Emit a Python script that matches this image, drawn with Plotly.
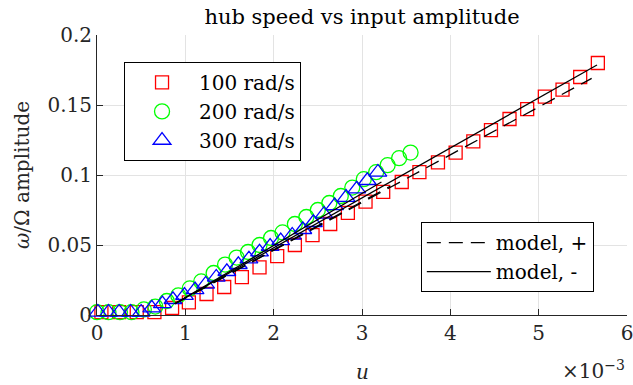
import plotly.graph_objects as go

# u values are in units of 1e-3 (axis carries a x10^-3 multiplier)
u_100 = [0.05, 0.25, 0.45, 0.65, 0.85, 1.04, 1.24, 1.44, 1.64, 1.84, 2.04, 2.24, 2.44, 2.64, 2.84,
         3.04, 3.24, 3.45, 3.65, 3.86, 4.06, 4.26, 4.46, 4.67, 4.87, 5.07, 5.27, 5.47, 5.67]
w_100 = [0.002, 0.002, 0.002, 0.002, 0.005, 0.009, 0.015, 0.020, 0.027, 0.034, 0.042, 0.050, 0.057,
         0.065, 0.073, 0.081, 0.088, 0.095, 0.102, 0.109, 0.116, 0.124, 0.132, 0.140, 0.147, 0.156,
         0.161, 0.170, 0.180]

u_200 = [0.00, 0.13, 0.26, 0.39, 0.53, 0.66, 0.79, 0.92, 1.05, 1.18, 1.32, 1.45, 1.58, 1.71, 1.84,
         1.97, 2.10, 2.24, 2.37, 2.50, 2.63, 2.76, 2.89, 3.02, 3.16, 3.29, 3.42, 3.55]
w_200 = [0.002, 0.002, 0.002, 0.002, 0.004, 0.006, 0.010, 0.014, 0.019, 0.024, 0.030, 0.036, 0.041,
         0.045, 0.050, 0.055, 0.059, 0.065, 0.070, 0.075, 0.080, 0.085, 0.091, 0.097, 0.102, 0.107,
         0.112, 0.116]

u_300 = [0.01, 0.13, 0.25, 0.38, 0.50, 0.62, 0.74, 0.86, 0.99, 1.11, 1.23, 1.35, 1.47, 1.60, 1.72,
         1.84, 1.96, 2.08, 2.21, 2.33, 2.45, 2.57, 2.69, 2.82, 2.94, 3.06, 3.18]
w_300 = [0.002, 0.002, 0.002, 0.002, 0.002, 0.005, 0.008, 0.011, 0.014, 0.018, 0.022, 0.027, 0.031,
         0.036, 0.040, 0.045, 0.049, 0.053, 0.057, 0.061, 0.066, 0.072, 0.078, 0.084, 0.090, 0.096,
         0.102]

# model curves (straight segments above the dead zone)
model_plus_u_long = [0.88, 5.60]
model_plus_w_long = [0.008, 0.169]
model_minus_u_long = [0.88, 5.66]
model_minus_w_long = [0.008, 0.1786]
model_plus_u_short = [0.88, 3.32]
model_plus_w_short = [0.008, 0.092]
model_minus_u_short = [0.88, 3.22]
model_minus_w_short = [0.008, 0.095]

x_ticks = [0, 1, 2, 3, 4, 5, 6]
y_ticks = [0, 0.05, 0.1, 0.15, 0.2]
y_ticktext = ["0", "0.05", "0.1", "0.15", "0.2"]

FONT = "DejaVu Serif"
AX = "#262626"
FS = 20

fig = go.Figure()
fig.add_trace(go.Scatter(x=u_100, y=w_100, mode="markers", name="100 rad/s", cliponaxis=False,
                         marker=dict(symbol="square-open", size=13, color="#ff0000", line=dict(width=1.3)),
                         legend="legend"))
fig.add_trace(go.Scatter(x=u_200, y=w_200, mode="markers", name="200 rad/s", cliponaxis=False,
                         marker=dict(symbol="circle-open", size=15, color="#00ff00", line=dict(width=1.3)),
                         legend="legend"))
fig.add_trace(go.Scatter(x=u_300, y=w_300, mode="markers", name="300 rad/s", cliponaxis=False,
                         marker=dict(symbol="triangle-up-open", size=15.5, color="#0000ff", line=dict(width=1.3)),
                         legend="legend"))
fig.add_trace(go.Scatter(x=model_plus_u_short, y=model_plus_w_short, mode="lines", showlegend=False,
                         line=dict(color="black", width=1.3, dash="14px,8px")))
fig.add_trace(go.Scatter(x=model_minus_u_short, y=model_minus_w_short, mode="lines", showlegend=False,
                         line=dict(color="black", width=1.3)))
fig.add_trace(go.Scatter(x=model_plus_u_long, y=model_plus_w_long, mode="lines", name="model, +",
                         line=dict(color="black", width=1.3, dash="14px,8px"), legend="legend2"))
fig.add_trace(go.Scatter(x=model_minus_u_long, y=model_minus_w_long, mode="lines", name="model, -",
                         line=dict(color="black", width=1.3), legend="legend2"))

axis_common = dict(showgrid=True, gridcolor="#e3e3e3", gridwidth=1, ticks="inside", ticklen=6,
                   tickcolor=AX, showline=True, linecolor=AX, linewidth=1, zeroline=False,
                   automargin=False, ticklabeloverflow="allow",
                   tickfont=dict(family=FONT, size=FS, color=AX))

fig.update_layout(
    width=633, height=385,
    margin=dict(l=97, r=6, t=35, b=70),
    paper_bgcolor="white", plot_bgcolor="white",
    font=dict(family=FONT, size=FS, color="black"),
    title=dict(text="hub speed vs input amplitude", x=362 / 633, xanchor="center",
               y=1 - 17 / 385, yanchor="middle", automargin=False,
               font=dict(family=FONT, size=21, color="black")),
    xaxis=dict(range=[0, 6], tickvals=x_ticks, **axis_common),
    yaxis=dict(range=[0, 0.2], tickvals=y_ticks, ticktext=y_ticktext,
               title=dict(text="<i>ω</i>/Ω amplitude", standoff=12, font=dict(family=FONT, size=FS, color=AX)),
               **axis_common),
    legend=dict(x=0.051, y=0.904, xanchor="left", yanchor="top", bgcolor="white",
                bordercolor="black", borderwidth=1, font=dict(family=FONT, size=FS, color="black"),
                itemwidth=64, tracegroupgap=0),
    legend2=dict(x=0.611, y=0.332, xanchor="left", yanchor="top", bgcolor="white",
                 bordercolor="black", borderwidth=1, font=dict(family=FONT, size=FS, color="black"),
                 itemwidth=64),
    annotations=[
        dict(text="<i>u</i>", xref="paper", yref="paper", x=0.5, y=0, yshift=-57,
             xanchor="center", yanchor="middle", showarrow=False,
             font=dict(family=FONT, size=FS, color=AX)),
        dict(text="×10<sup>−3</sup>", xref="paper", yref="paper", x=1.0, y=0, yshift=-55,
             xanchor="right", yanchor="middle", showarrow=False,
             font=dict(family=FONT, size=FS, color=AX)),
    ],
)

fig.write_html("out.html", config={"displayModeBar": False},
               post_script="document.body.style.margin='0';")
